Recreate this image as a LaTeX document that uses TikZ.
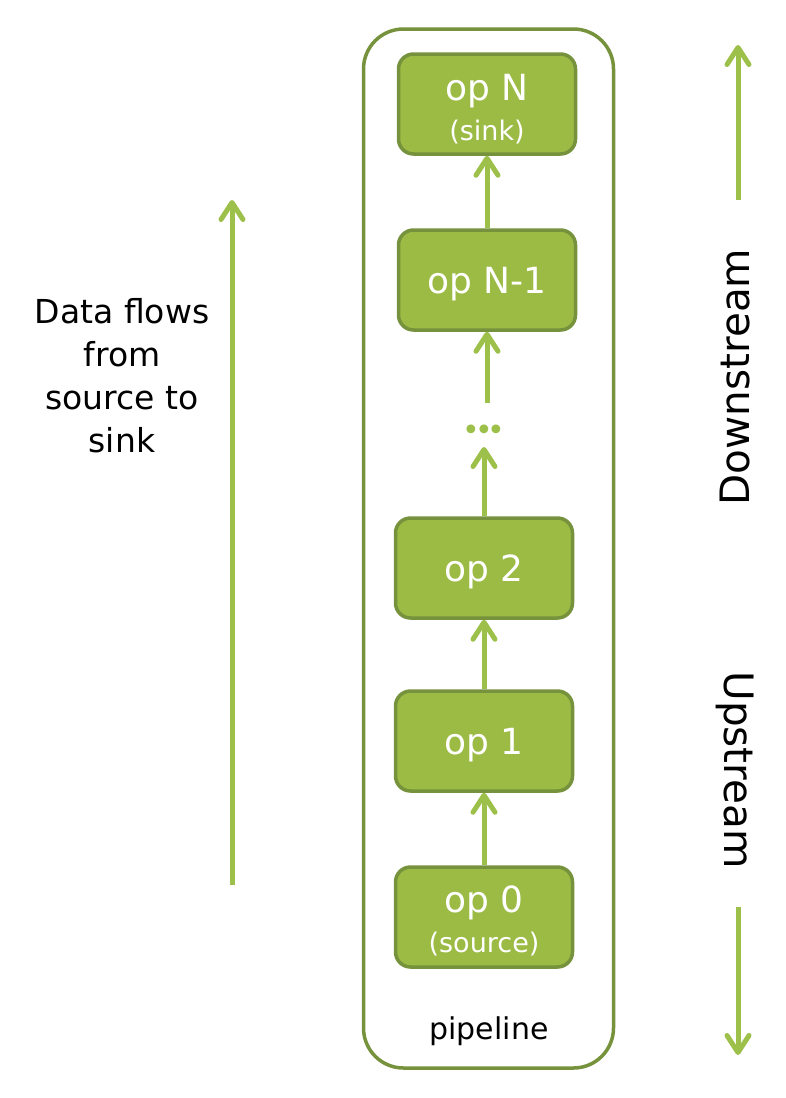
\documentclass[tikz,border=0pt]{standalone}
\usepackage{fontspec}
\setmainfont{DejaVu Sans}
\usetikzlibrary{arrows.meta}
\definecolor{boxfill}{HTML}{9BBB45}
\definecolor{boxline}{HTML}{76923C}
\definecolor{flowgreen}{HTML}{9CC04A}
\begin{document}
\begin{tikzpicture}[x=1pt,y=-1pt,
  opbox/.style={draw=boxline, fill=boxfill, line width=3.5pt, rounded corners=15pt,
    minimum width=177pt, minimum height=100pt, inner sep=0pt},
  optext/.style={text=white, inner sep=0pt, anchor=base, font=\fontsize{36}{40}\selectfont},
  subtext/.style={text=white, inner sep=0pt, anchor=base, font=\fontsize{27}{30}\selectfont},
  flow/.style={draw=flowgreen, line width=5pt,
    -{Straight Barb[length=17pt,width=22pt,round]}},
  side/.style={text=black, inner sep=0pt}
]
\useasboundingbox (0,0) rectangle (786,1098);
% container
\node[draw=boxline, line width=3.5pt, rounded corners=40pt, minimum width=250pt,
  minimum height=1039pt, inner sep=0pt] (pipe) at (488.5,548.5) {};
\node[font=\fontsize{30}{34}\selectfont, anchor=base, inner sep=0pt] (pipelabel) at (489,1039) {pipeline};
% boxes
\node[opbox] (opN)  at (487,104) {};
\node[opbox] (opN1) at (487,280) {};
\node[opbox] (op2)  at (484,568) {};
\node[opbox] (op1)  at (484,741) {};
\node[opbox] (op0)  at (484,917) {};
\node[optext] (opNt) at (487,100) {op N};
\node[subtext] (opNs) at (487,140) {(sink)};
\node[optext] (opN1t) at (487,293) {op N-1};
\node[optext] (op2t) at (484,581) {op 2};
\node[optext] (op1t) at (484,754) {op 1};
\node[optext] (op0t) at (484,912) {op 0};
\node[subtext] (op0s) at (484,952) {(source)};
% dots
\node[text=flowgreen, font=\fontsize{30}{30}\selectfont, inner sep=0pt, anchor=base] (dots) at (484,440) {•\kern-5pt•\kern-5pt•};
\coordinate (dlow) at (484,447);
\coordinate (dhigh) at (487,403);
% arrows
\draw[flow] (op0.north) -- (op1.south);
\draw[flow] (op1.north) -- (op2.south);
\draw[flow] (op2.north) -- (dlow);
\draw[flow] (dhigh) -- (opN1.south);
\draw[flow] (opN1.north) -- (opN.south);
% left
\coordinate (lbot) at (232,885);
\coordinate (ltop) at (232,200);
\draw[flow] (lbot) -- (ltop);
\node[side, align=center, anchor=north, font=\fontsize{33}{43}\selectfont] (dataflow) at (122,298) {Data flows\\from\\source to\\sink};
% right
\coordinate (rtopA) at (738,200);
\coordinate (rtopB) at (738,45);
\draw[flow] (rtopA) -- (rtopB);
\coordinate (rbotA) at (738,907);
\coordinate (rbotB) at (738,1055);
\draw[flow] (rbotA) -- (rbotB);
\node[side, rotate=90, anchor=base, font=\fontsize{40.5}{44}\selectfont] (down) at (749,377) {Downstream};
\node[side, rotate=-90, anchor=base, font=\fontsize{40.5}{44}\selectfont] (up) at (724,770) {Upstream};
\end{tikzpicture}
\end{document}
